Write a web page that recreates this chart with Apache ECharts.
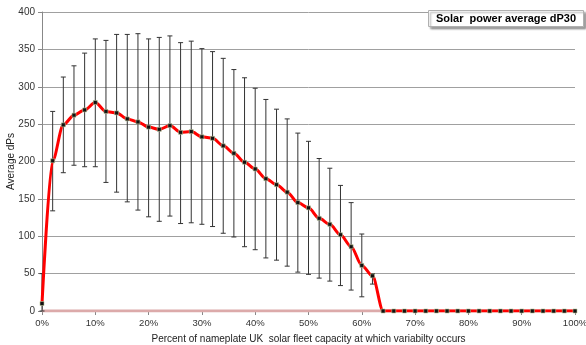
<!DOCTYPE html>
<html>
<head>
<meta charset="utf-8">
<script src="https://cdn.jsdelivr.net/npm/echarts@6/dist/echarts.min.js"></script>
<style>html,body{margin:0;padding:0;background:#fff;}#c{width:586px;height:345px;}</style>
</head>
<body>
<div id="c"></div>
<script>
var titleText = 'Solar  power average dP30';
var xAxisName = 'Percent of nameplate UK  solar fleet capacity at which variabilty occurs';
var yAxisName = 'Average dPs';

var xPercent = [0,2,4,6,8,10,12,14,16,18,20,22,24,26,28,30,32,34,36,38,40,42,44,46,48,50,52,54,56,58,60,62,64,66,68,70,72,74,76,78,80,82,84,86,88,90,92,94,96,98,100];
var avgDP = [10,201,249,262,269,279,267,265,257,253,246,243,248,239,240,233,231,221,211,199,190,177,169,159,145,138,124,116,102,86,61,47,0,0,0,0,0,0,0,0,0,0,0,0,0,0,0,0,0,0,0];
var errX = [0,2,4,6,8,10,12,14,16,18,20,22,24,26,28,30,32,34,36,38,40,42,44,46,48,50,52,54,56,58,60,62];
var errHigh = [50,267,313,328,345,364,362,370,370,371,364,366,368,359,361,351,347,338,323,312,298,283,270,257,238,227,204,191,168,145,103,50];
var errLow = [0,134,185,195,193,193,172,159,146,135,126,120,127,117,118,116,113,104,99,86,82,71,68,60,52,49,44,40,34,28,19,36];
var baseX = [0,100];
var baseY = [0,0];

var lineData = xPercent.map(function(x,i){return [x, avgDP[i]];});
var errData = errX.map(function(x,i){return [x, errLow[i], errHigh[i]];});
var baseData = baseX.map(function(x,i){return [x, baseY[i]];});

var chart = echarts.init(document.getElementById('c'));
chart.setOption({
  animation: false,
  backgroundColor: '#fff',
  textStyle: {fontFamily: 'Liberation Sans, Arial, sans-serif'},
  title: {
    text: titleText,
    left: 428, top: 10,
    padding: [3, 8, 3, 8],
    backgroundColor: '#fff',
    borderColor: '#b0b0b0',
    borderWidth: 1,
    shadowColor: 'rgba(0,0,0,0.35)',
    shadowBlur: 2,
    shadowOffsetX: 2,
    shadowOffsetY: 2,
    textStyle: {fontSize: 11, fontWeight: 'bold', color: '#000', fontFamily: 'Liberation Sans, Arial, sans-serif'}
  },
  grid: {left: 42, right: 11, top: 12, bottom: 34, containLabel: false, outerBoundsMode: 'none'},
  xAxis: {
    type: 'value', min: 0, max: 100, interval: 10,
    name: xAxisName, nameLocation: 'middle', nameGap: 23, nameMoveOverlap: false,
    nameTextStyle: {fontSize: 10, color: '#222'},
    axisLine: {show: true, lineStyle: {color: '#888', width: 1}},
    axisTick: {show: true, length: 4, lineStyle: {color: '#888'}},
    axisLabel: {formatter: '{value}%', fontSize: 9.5, color: '#333', margin: 7},
    splitLine: {show: false}
  },
  yAxis: {
    type: 'value', min: 0, max: 400, interval: 50,
    name: yAxisName, nameLocation: 'middle', nameGap: 26, nameRotate: 90, nameMoveOverlap: false,
    nameTextStyle: {fontSize: 10, color: '#222'},
    axisLine: {show: true, lineStyle: {color: '#888', width: 1}},
    axisTick: {show: true, length: 4, lineStyle: {color: '#888'}},
    axisLabel: {fontSize: 10, color: '#333', margin: 7},
    splitLine: {show: true, lineStyle: {color: '#a0a0a0', width: 1}}
  },
  series: [
    {
      type: 'line', data: baseData, symbol: 'none', z: 1,
      lineStyle: {color: '#dcaaaa', width: 3}
    },
    {
      type: 'custom', data: errData, z: 2,
      renderItem: function(params, api){
        var x = api.value(0);
        var lo = api.coord([x, api.value(1)]);
        var hi = api.coord([x, api.value(2)]);
        var w = 2.5;
        var st = {stroke: '#333', lineWidth: 1};
        return {type: 'group', children: [
          {type: 'line', shape: {x1: lo[0], y1: lo[1], x2: hi[0], y2: hi[1]}, style: st},
          {type: 'line', shape: {x1: hi[0]-w, y1: hi[1], x2: hi[0]+w, y2: hi[1]}, style: st},
          {type: 'line', shape: {x1: lo[0]-w, y1: lo[1], x2: lo[0]+w, y2: lo[1]}, style: st}
        ]};
      }
    },
    {
      type: 'line', data: lineData, smooth: 0.3, smoothMonotone: 'x', z: 3,
      symbol: 'rect', symbolSize: 4, showAllSymbol: true,
      itemStyle: {color: '#111', borderColor: '#b9c498', borderWidth: 0.6},
      lineStyle: {color: '#ff0000', width: 3}
    }
  ]
});
</script>
</body>
</html>
